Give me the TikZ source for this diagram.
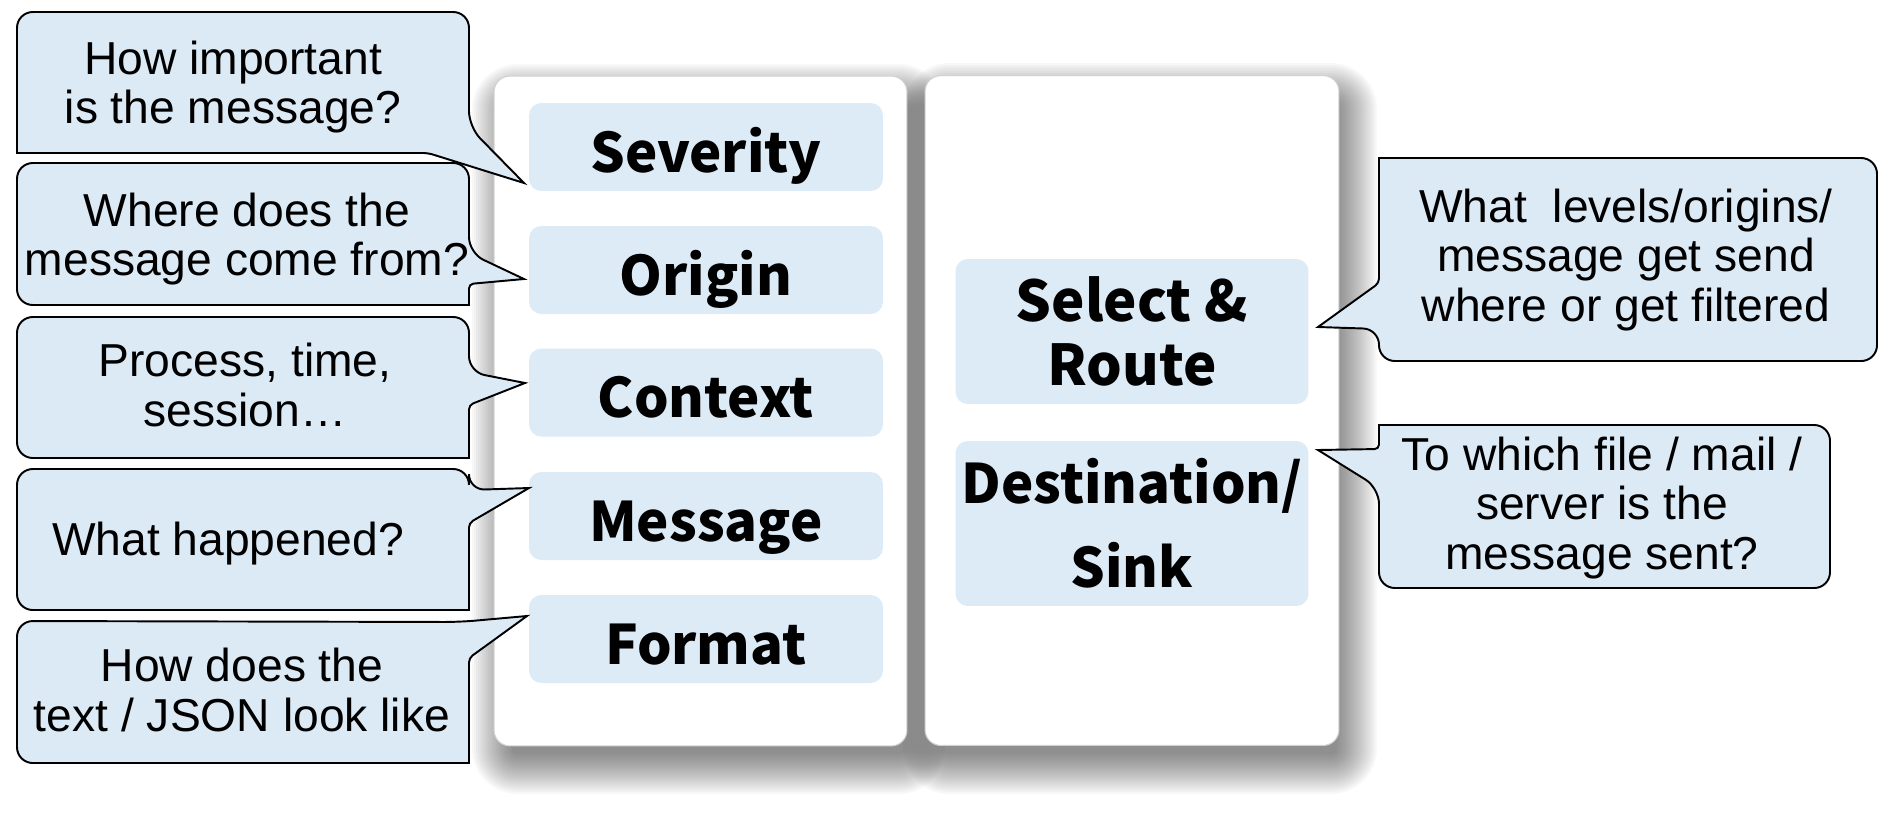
\documentclass[tikz,border=0pt]{standalone}
\usepackage{fontspec}
\setmainfont{Liberation Sans}
\newfontfamily\fieldfont{Noto Sans CJK JP}
\definecolor{fieldblue}{RGB}{221,235,247}
\definecolor{bubbleblue}{RGB}{220,234,246}

\begin{document}
\begin{tikzpicture}[x=0.02cm,y=-0.02cm,
  panel/.style={draw=black!18,fill=white,line width=0.6pt,rounded corners=9pt,minimum height=13.4cm,inner sep=0pt},
  field/.style={fill=fieldblue,rounded corners=7pt,minimum width=7.08cm,minimum height=1.76cm,inner sep=0pt,
    font=\fieldfont\bfseries\fontsize{31}{34}\selectfont,text height=28.5pt,text depth=0pt},
  bigfield/.style={fill=fieldblue,rounded corners=7pt,minimum width=7.06cm,inner sep=0pt,align=center},
  bubble/.style={draw=black,fill=bubbleblue,line width=1.1pt},
  ask/.style={align=center,inner sep=0pt,font=\fontsize{26.3}{28}\selectfont}]

\useasboundingbox (0,0) rectangle (1891,816);

% soft shadows behind the two panels
\foreach \e [evaluate=\e as \r using {max(2,9+0.569*\e)}] in {-10,-8,...,30}{
  \fill[black,opacity=0.028,rounded corners=\r pt] ({502-\e},{94-\e}) rectangle ({915+\e},{764+\e});
  \fill[black,opacity=0.028,rounded corners=\r pt] ({933-\e},{93-\e}) rectangle ({1347+\e},{764+\e});
}

\node[panel,minimum width=8.26cm] (fields) at (700.5,411) {};
\node[panel,minimum width=8.28cm] (routing) at (1132,410.5) {};

\node[field] (severity) at (706,147) {Severity};
\node[field] (origin) at (706,270) {Origin};
\node[field] (context) at (706,392.5) {Context};
\node[field] (message) at (706,516) {Message};
\node[field] (format) at (706,639) {Format};

\node[bigfield,minimum height=2.9cm,font=\fieldfont\bfseries\fontsize{32}{36}\selectfont] (select) at (1132,331.5) {Select \&\\Route};
\node[bigfield,minimum height=3.3cm,font=\fieldfont\bfseries\fontsize{31}{47.8}\selectfont] (sink) at (1132,523.5) {Destination/\\Sink};

% speech bubbles on the left
\draw[bubble] (17,82) [rounded corners=9pt] -- (17,12) -- (469,12) -- (469,127) [sharp corners] -- (524,183) [rounded corners=2.5pt] -- (428,153) [sharp corners] -- (17,153) [rounded corners=9pt] -- cycle;
\draw[bubble] (17,234) [rounded corners=9pt] -- (17,163) -- (469,163) -- (469,253) [sharp corners] -- (524,279) [rounded corners=2.5pt] -- (469,284) [sharp corners] -- (469,305) [rounded corners=9pt] -- (17,305) -- cycle;
\draw[bubble] (17,387) [rounded corners=9pt] -- (17,317) -- (469,317) -- (469,372) [sharp corners] -- (525,383) [rounded corners=2.5pt] -- (469,405) [sharp corners] -- (469,458) [rounded corners=9pt] -- (17,458) -- cycle;
\draw[bubble] (17,540) [rounded corners=9pt] -- (17,469) -- (469,469) -- (469,490) [sharp corners] -- (529,488) [rounded corners=2.5pt] -- (469,523) [sharp corners] -- (469,610) [rounded corners=9pt] -- (17,610) -- cycle;
\draw[bubble] (17,692) [rounded corners=9pt] -- (17,621) -- (460,622) [sharp corners] -- (527,616) [rounded corners=2.5pt] -- (469,658) [sharp corners] -- (469,763) [rounded corners=9pt] -- (17,763) -- cycle;

% speech bubbles on the right
\draw[bubble] (1628,158) [rounded corners=9pt] -- (1877,158) -- (1877,361) -- (1379,361) -- (1379,329) [sharp corners] -- (1318,327) [rounded corners=2.5pt] -- (1379,283) [sharp corners] -- (1379,158) [rounded corners=9pt] -- cycle;
\draw[bubble] (1604,425) [rounded corners=9pt] -- (1830,425) -- (1830,588) -- (1379,588) -- (1379,488) [sharp corners] -- (1318,450) [rounded corners=2.5pt] -- (1379,449) [sharp corners] -- (1379,425) [rounded corners=9pt] -- cycle;

\node[ask] (askseverity) at (233,87) {How important\\is the message?};
\node[ask] (askorigin) at (247,239) {Where does the\\message come from?};
\node[ask] (askcontext) at (245,385) {Process, time,\\session…};
\node[ask] (askmessage) at (228,544) {What happened?};
\node[ask] (askformat) at (242,690) {How does the\\text / JSON look like};
\node[ask] (askselect) at (1626,260) {What~~levels/origins/\\message get send\\where or get filtered};
\node[ask] (asksink) at (1602,508) {To which file / mail /\\server is the\\message sent?};

\end{tikzpicture}
\end{document}
